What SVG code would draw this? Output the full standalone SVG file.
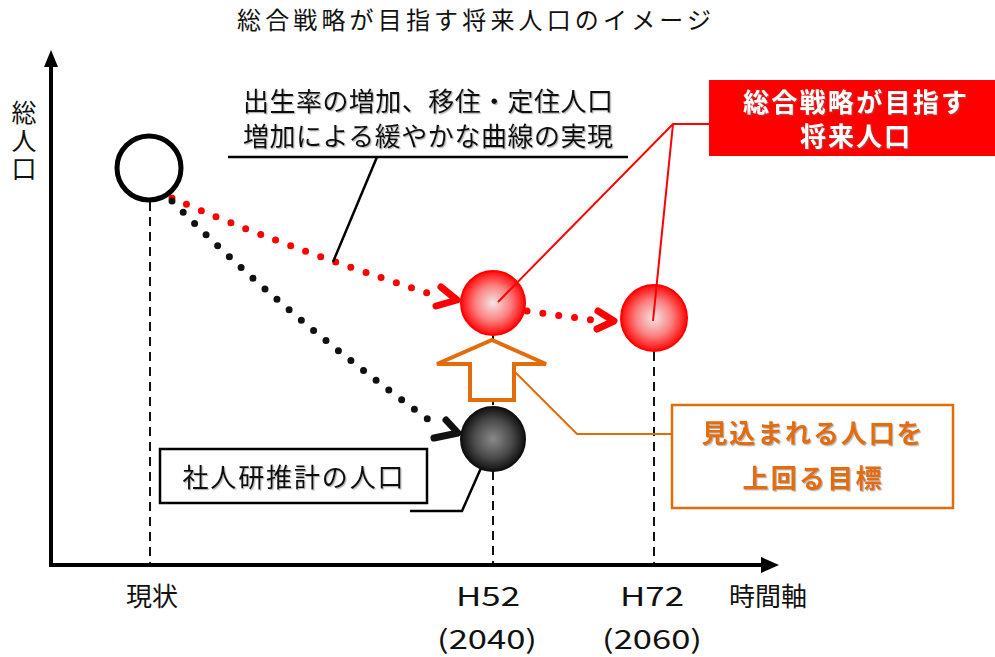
<svg xmlns="http://www.w3.org/2000/svg" width="995" height="657" viewBox="0 0 995 657">
<style>
text{font-family:"Noto Sans CJK JP","Noto Sans",sans-serif;fill:#111}
.lbl{font-size:26px}
.ax{font-size:25px}
.dash{stroke:#111;stroke-width:2;stroke-dasharray:9 6;fill:none}
.dotr{stroke:#ff0000;stroke-width:7;stroke-linecap:round;stroke-dasharray:0 16;fill:none}
.dotk{stroke:#111;stroke-width:7;stroke-linecap:round;stroke-dasharray:0 16;fill:none}
.chev{stroke-width:7;stroke-linecap:round;stroke-linejoin:round;fill:none}
.shadow{filter:url(#sh)}
</style>
<defs>
<radialGradient id="gr" cx="0.5" cy="0.5" r="0.5">
<stop offset="0" stop-color="#f4e4e4"/>
<stop offset="0.55" stop-color="#fb8080"/>
<stop offset="1" stop-color="#ff0808"/>
</radialGradient>
<radialGradient id="gk" cx="0.5" cy="0.5" r="0.5">
<stop offset="0" stop-color="#8a8a8a"/>
<stop offset="0.6" stop-color="#4a4a4a"/>
<stop offset="1" stop-color="#111"/>
</radialGradient>
<filter id="sh" x="-5%" y="-20%" width="110%" height="140%">
<feDropShadow dx="1.2" dy="1.2" stdDeviation="0.6" flood-color="#777" flood-opacity="0.55"/>
</filter>
</defs>

<text x="474" y="29" text-anchor="middle" style="font-size:24px" textLength="474" lengthAdjust="spacing">総合戦略が目指す将来人口のイメージ</text>

<g id="axes">
<line x1="51" y1="565" x2="51" y2="66" stroke="#000" stroke-width="4"/>
<polygon points="51,50 44,67 58,67" fill="#000"/>
<line x1="49" y1="565" x2="762" y2="565" stroke="#000" stroke-width="4"/>
<polygon points="779,565 761,557 761,573" fill="#000"/>
<text class="ax" x="24" y="100" style="writing-mode:vertical-rl;letter-spacing:3px">総人口</text>
<text class="lbl" x="152" y="606" text-anchor="middle">現状</text>
<text class="lbl" x="488" y="606" text-anchor="middle" textLength="64" lengthAdjust="spacingAndGlyphs">H52</text>
<text class="lbl" x="652" y="606" text-anchor="middle" textLength="64" lengthAdjust="spacingAndGlyphs">H72</text>
<text class="lbl" x="768" y="606" text-anchor="middle">時間軸</text>
<text class="lbl" x="487" y="649" text-anchor="middle" textLength="100" lengthAdjust="spacingAndGlyphs">(2040)</text>
<text class="lbl" x="652" y="649" text-anchor="middle" textLength="100" lengthAdjust="spacingAndGlyphs">(2060)</text>
</g>

<g id="connectors">
<line class="dash" x1="150" y1="202" x2="150" y2="563"/>
<line class="dash" x1="493" y1="336" x2="493" y2="563"/>
<line class="dash" x1="654" y1="352" x2="654" y2="563"/>
<path class="dotr" d="M172,198 Q278,245 440,297"/>
<polyline class="chev" stroke="#ff0000" points="441,287 457,300 436,306"/>
<path class="dotk" d="M172,201 Q285,316 440,428"/>
<polyline class="chev" stroke="#111" points="446,420 458,433 434,438"/>
<path class="dotr" d="M527,311 L592,320"/>
<polyline class="chev" stroke="#ff0000" points="598,311 614,321 597,329"/>
<polyline points="228,157 628,157" stroke="#000" stroke-width="2.5" fill="none"/>
<polyline points="377,157 333,262" stroke="#000" stroke-width="2.5" fill="none"/>
<polyline points="410,511 462,511 481,468" stroke="#000" stroke-width="2.5" fill="none"/>
<polyline points="513,370 577,434 672,434" stroke="#E36C0A" stroke-width="2" fill="none"/>
</g>

<g id="current">
<circle cx="149" cy="168" r="32" fill="#fff" stroke="#000" stroke-width="5"/>
</g>

<g id="h52-target">
<circle cx="493" cy="303" r="32" fill="url(#gr)" stroke="#ff0000" stroke-width="2"/>
</g>

<g id="h72-target">
<circle cx="654" cy="318" r="33" fill="url(#gr)" stroke="#ff0000" stroke-width="2"/>
</g>

<g id="h52-projection">
<circle cx="493" cy="439" r="32" fill="url(#gk)" stroke="#111" stroke-width="2"/>
</g>

<g id="up-arrow">
<polygon points="492,340 546,364 514,364 514,400 470,400 470,364 437,364" fill="#fff" stroke="#E36C0A" stroke-width="4"/>
</g>

<g id="red-leaders">
<polyline points="709,124 673,124 498,302" stroke="#ff0000" stroke-width="2" fill="none"/>
<polyline points="673,124 653,321" stroke="#ff0000" stroke-width="2" fill="none"/>
</g>

<g id="note-curve">
<text class="lbl shadow" text-anchor="middle"><tspan x="428" y="111" textLength="370" lengthAdjust="spacing">出生率の増加、移住・定住人口</tspan><tspan x="428" y="145.5" textLength="370" lengthAdjust="spacing">増加による緩やかな曲線の実現</tspan></text>
</g>

<g id="target-box">
<rect x="709" y="80" width="286" height="76" fill="#ff0000"/>
<text class="lbl shadow" text-anchor="middle" style="fill:#fff;font-weight:bold"><tspan x="855" y="112" textLength="224" lengthAdjust="spacing">総合戦略が目指す</tspan><tspan x="855" y="146" textLength="110" lengthAdjust="spacing">将来人口</tspan></text>
</g>

<g id="goal-box">
<rect x="672" y="405" width="281" height="103" fill="#fff" stroke="#E36C0A" stroke-width="2.5"/>
<text class="lbl shadow" text-anchor="middle" style="fill:#E36C0A;font-weight:bold"><tspan x="812" y="443" textLength="221" lengthAdjust="spacing">見込まれる人口を</tspan><tspan x="812" y="488" textLength="139" lengthAdjust="spacing">上回る目標</tspan></text>
</g>

<g id="ipss-box">
<rect x="160" y="449" width="267" height="54" fill="#fff" stroke="#000" stroke-width="2.5"/>
<text class="lbl shadow" x="293" y="487" text-anchor="middle" textLength="221" lengthAdjust="spacing">社人研推計の人口</text>
</g>
</svg>
